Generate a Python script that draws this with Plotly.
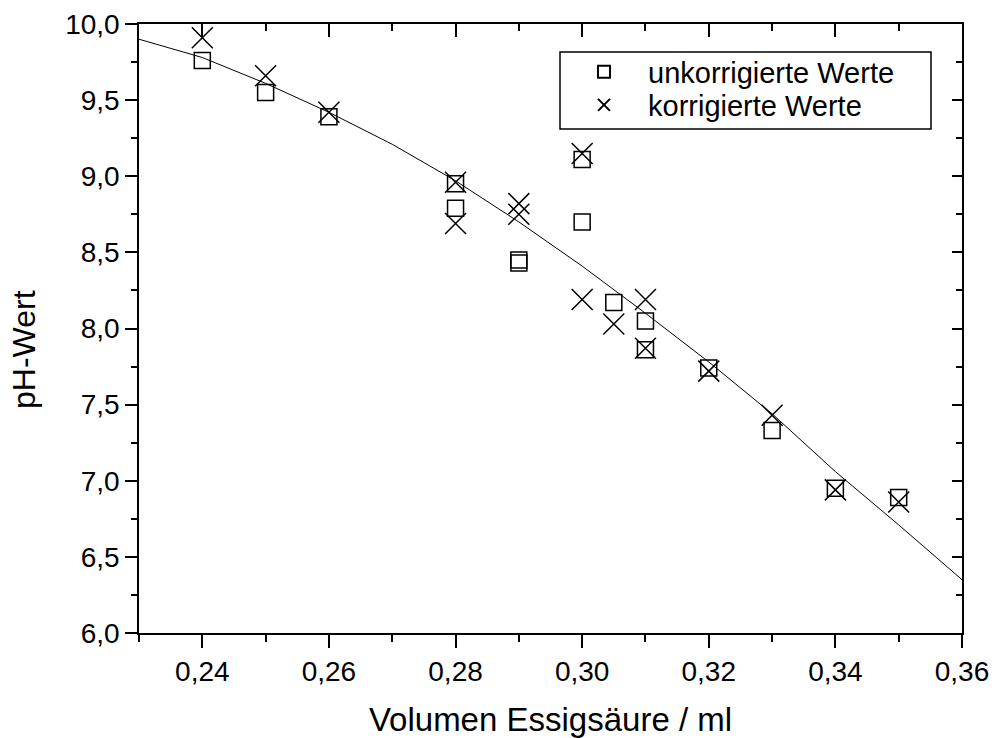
import plotly.graph_objects as go

# uncorrected values (squares)
x_unk = [0.24, 0.25, 0.26, 0.28, 0.28, 0.29, 0.29, 0.30, 0.30, 0.305, 0.31, 0.31, 0.32, 0.33, 0.34, 0.35]
y_unk = [9.76, 9.55, 9.39, 8.95, 8.79, 8.45, 8.43, 9.11, 8.70, 8.17, 8.05, 7.86, 7.74, 7.33, 6.95, 6.89]

# corrected values (crosses)
x_kor = [0.24, 0.25, 0.26, 0.28, 0.28, 0.29, 0.29, 0.30, 0.30, 0.305, 0.31, 0.31, 0.32, 0.33, 0.34, 0.35]
y_kor = [9.91, 9.66, 9.42, 8.96, 8.69, 8.82, 8.75, 9.15, 8.19, 8.03, 8.19, 7.87, 7.72, 7.43, 6.94, 6.86]

# fitted curve
fit_x = [0.23, 0.24, 0.25, 0.26, 0.27, 0.28, 0.29, 0.30, 0.31, 0.32, 0.33, 0.34, 0.35, 0.36]
fit_y = [9.90, 9.78, 9.61, 9.42, 9.21, 8.97, 8.70, 8.41, 8.10, 7.78, 7.44, 7.06, 6.71, 6.35]

x_range = [0.23, 0.36]
y_range = [6.0, 10.0]

FONT = "Liberation Sans, Arial, sans-serif"

# plot area in pixels
L, R, T, B = 139, 962, 24, 633
W, H = 997, 738
PW, PH = R - L, B - T


def px(xp):
    return (xp - L) / PW


def py(yp):
    return (B - yp) / PH


fig = go.Figure()
fig.add_trace(go.Scatter(x=fit_x, y=fit_y, mode="lines", line=dict(color="black", width=1),
                         showlegend=False, hoverinfo="skip"))
fig.add_trace(go.Scatter(x=x_unk, y=y_unk, mode="markers", name="unkorrigierte Werte",
                         legend="legend",
                         marker=dict(symbol="square-open", size=16, color="black",
                                     line=dict(width=1.5, color="black"))))
fig.add_trace(go.Scatter(x=x_kor, y=y_kor, mode="markers", name="korrigierte Werte",
                         legend="legend2",
                         marker=dict(symbol="x-thin-open", size=21, color="black",
                                     line=dict(width=1.5, color="black"))))
# invisible trace to anchor mirrored axes
fig.add_trace(go.Scatter(x=[x_range[0]], y=[y_range[0]], xaxis="x2", yaxis="y2",
                         mode="markers", marker=dict(opacity=0), showlegend=False,
                         hoverinfo="skip"))

axis_common = dict(showgrid=False, zeroline=False, showline=True, linecolor="black",
                   linewidth=1.5, tickcolor="black", tickwidth=1.5, automargin=False)

legend_common = dict(xanchor="left", yanchor="middle", borderwidth=0,
                     bgcolor="rgba(0,0,0,0)", font=dict(size=29), itemwidth=78,
                     itemsizing="constant")

fig.update_layout(
    width=W, height=H,
    margin=dict(l=L, r=W - R, t=T, b=H - B, autoexpand=False),
    paper_bgcolor="white", plot_bgcolor="white",
    separators=",.",
    font=dict(family=FONT, color="black", size=28),
    xaxis=dict(range=x_range, dtick=0.02, tick0=0.24, tickformat=".2f", ticks="outside",
               ticklen=13, minor=dict(dtick=0.01, tick0=0.23, ticks="outside", ticklen=7,
                                      tickcolor="black", tickwidth=1.5),
               tickfont=dict(size=28),
               title=dict(text="Volumen Essigsäure / ml", font=dict(size=33), standoff=27),
               **axis_common),
    yaxis=dict(range=y_range, dtick=0.5, tick0=6, tickformat=".1f", ticks="outside",
               ticklen=12, minor=dict(dtick=0.25, ticks="outside", ticklen=6,
                                      tickcolor="black", tickwidth=1.5),
               tickfont=dict(size=28),
               **axis_common),
    xaxis2=dict(range=x_range, overlaying="x", side="top", dtick=0.02, tick0=0.24,
                ticks="inside", ticklen=13, showticklabels=False,
                minor=dict(dtick=0.01, tick0=0.23, ticks="inside", ticklen=7,
                           tickcolor="black", tickwidth=1.5),
                **axis_common),
    yaxis2=dict(range=y_range, overlaying="y", side="right", dtick=0.5, tick0=6,
                ticks="inside", ticklen=10, showticklabels=False,
                minor=dict(dtick=0.25, ticks="inside", ticklen=6,
                           tickcolor="black", tickwidth=1.5),
                **axis_common),
    legend=dict(x=px(560), y=py(72), **legend_common),
    legend2=dict(x=px(560), y=py(105), **legend_common),
    shapes=[dict(type="rect", xref="paper", yref="paper",
                 x0=px(560), x1=px(931), y0=py(129), y1=py(52),
                 line=dict(color="black", width=1.5), fillcolor="white", layer="above")],
    annotations=[dict(text="pH-Wert", xref="paper", yref="paper", x=px(24), y=py(350),
                      xanchor="center", yanchor="middle", textangle=-90, showarrow=False,
                      font=dict(size=32))],
)

fig.write_html("out.html")
